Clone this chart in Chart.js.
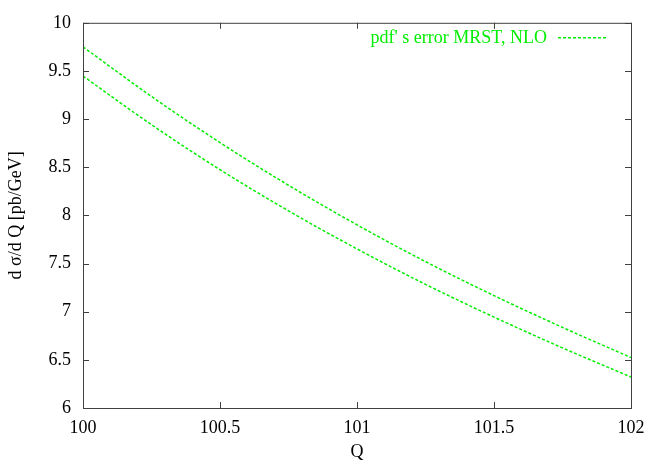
<!DOCTYPE html>
<html>
<head>
<meta charset="utf-8">
<script src="https://cdn.jsdelivr.net/npm/chart.js@4.4.0/dist/chart.umd.min.js"></script>
<style>
  html, body { margin: 0; padding: 0; background: #fff; }
  #wrap { width: 662px; height: 463px; position: relative; }
</style>
</head>
<body>
<div id="wrap"><canvas id="xsec"></canvas></div>
<script>
// Q values (GeV) and the two pdf error band edges
const qValues = [100, 100.25, 100.5, 100.75, 101, 101.25, 101.5, 101.75, 102];
const upperBand = [9.75, 9.235, 8.756, 8.313, 7.902, 7.520, 7.167, 6.837, 6.524];
const lowerBand = [9.447, 8.942, 8.475, 8.047, 7.652, 7.284, 6.944, 6.624, 6.322];
const xTicks = [100, 100.5, 101, 101.5, 102];
const yTicks = [6, 6.5, 7, 7.5, 8, 8.5, 9, 9.5, 10];

const lineColor = "#00ee00";
const serif = "'Liberation Serif', 'DejaVu Serif', serif";

const toPoints = ys => qValues.map((q, i) => ({ x: q, y: ys[i] }));

// gnuplot style frame: full box, ticks pointing inward, legend text then sample
const framePlugin = {
  id: "frame",
  afterDraw(chart) {
    const ctx = chart.ctx;
    const { left, right, top, bottom } = chart.chartArea;
    const xs = chart.scales.x, ys = chart.scales.y;
    ctx.save();
    ctx.strokeStyle = "#404040";
    ctx.lineWidth = 1;
    ctx.strokeRect(left + 0.5, top + 0.5, right - left, bottom - top);
    ctx.beginPath();
    xTicks.forEach(v => {
      const px = Math.round(xs.getPixelForValue(v)) + 0.5;
      ctx.moveTo(px, bottom); ctx.lineTo(px, bottom - 6);
      ctx.moveTo(px, top); ctx.lineTo(px, top + 6);
    });
    yTicks.forEach(v => {
      const py = Math.round(ys.getPixelForValue(v)) + 0.5;
      ctx.moveTo(left, py); ctx.lineTo(left + 6, py);
      ctx.moveTo(right, py); ctx.lineTo(right - 6, py);
    });
    ctx.stroke();

    // legend
    const ly = top + 15;
    ctx.font = "18px " + serif;
    ctx.fillStyle = lineColor;
    ctx.textAlign = "right";
    ctx.textBaseline = "middle";
    ctx.fillText(chart.data.datasets[0].label, right - 84, ly);
    ctx.beginPath();
    ctx.strokeStyle = lineColor;
    ctx.lineWidth = 1.5;
    ctx.setLineDash([3, 2]);
    ctx.moveTo(right - 73, ly);
    ctx.lineTo(right - 23, ly);
    ctx.stroke();
    ctx.restore();
  }
};

const trimLabel = v => String(Number(v));

new Chart(document.getElementById("xsec"), {
  type: "line",
  data: {
    datasets: [
      {
        label: "pdf' s error MRST, NLO",
        data: toPoints(upperBand),
        borderColor: lineColor,
        borderWidth: 1.5,
        borderDash: [3, 2],
        pointRadius: 0,
        cubicInterpolationMode: "monotone",
        fill: false
      },
      {
        label: "",
        data: toPoints(lowerBand),
        borderColor: lineColor,
        borderWidth: 1.5,
        borderDash: [3, 2],
        pointRadius: 0,
        cubicInterpolationMode: "monotone",
        fill: false
      }
    ]
  },
  options: {
    responsive: true,
    maintainAspectRatio: false,
    animation: false,
    layout: { padding: { left: 0, right: 31, top: 22, bottom: 0 } },
    plugins: {
      legend: { display: false },
      tooltip: { enabled: false }
    },
    scales: {
      x: {
        type: "linear",
        min: 100,
        max: 102,
        afterBuildTicks: s => { s.ticks = xTicks.map(v => ({ value: v })); },
        afterFit: s => { s.height = 55; },
        grid: { display: false, drawTicks: false },
        border: { display: false },
        ticks: {
          color: "#000",
          padding: 9,
          maxRotation: 0,
          callback: trimLabel,
          font: { family: serif, size: 18 }
        },
        title: {
          display: true,
          text: "Q",
          color: "#000",
          padding: { top: 0, bottom: 0 },
          font: { family: serif, size: 18 }
        }
      },
      y: {
        min: 6,
        max: 10,
        afterBuildTicks: s => { s.ticks = yTicks.map(v => ({ value: v })); },
        afterFit: s => { s.width = 83; },
        grid: { display: false, drawTicks: false },
        border: { display: false },
        ticks: {
          color: "#000",
          padding: 12,
          callback: trimLabel,
          font: { family: serif, size: 18 }
        },
        title: {
          display: true,
          text: "d σ/d Q [pb/GeV]",
          color: "#000",
          padding: { top: 5, bottom: 0 },
          font: { family: serif, size: 18 }
        }
      }
    }
  },
  plugins: [framePlugin]
});
</script>
</body>
</html>
